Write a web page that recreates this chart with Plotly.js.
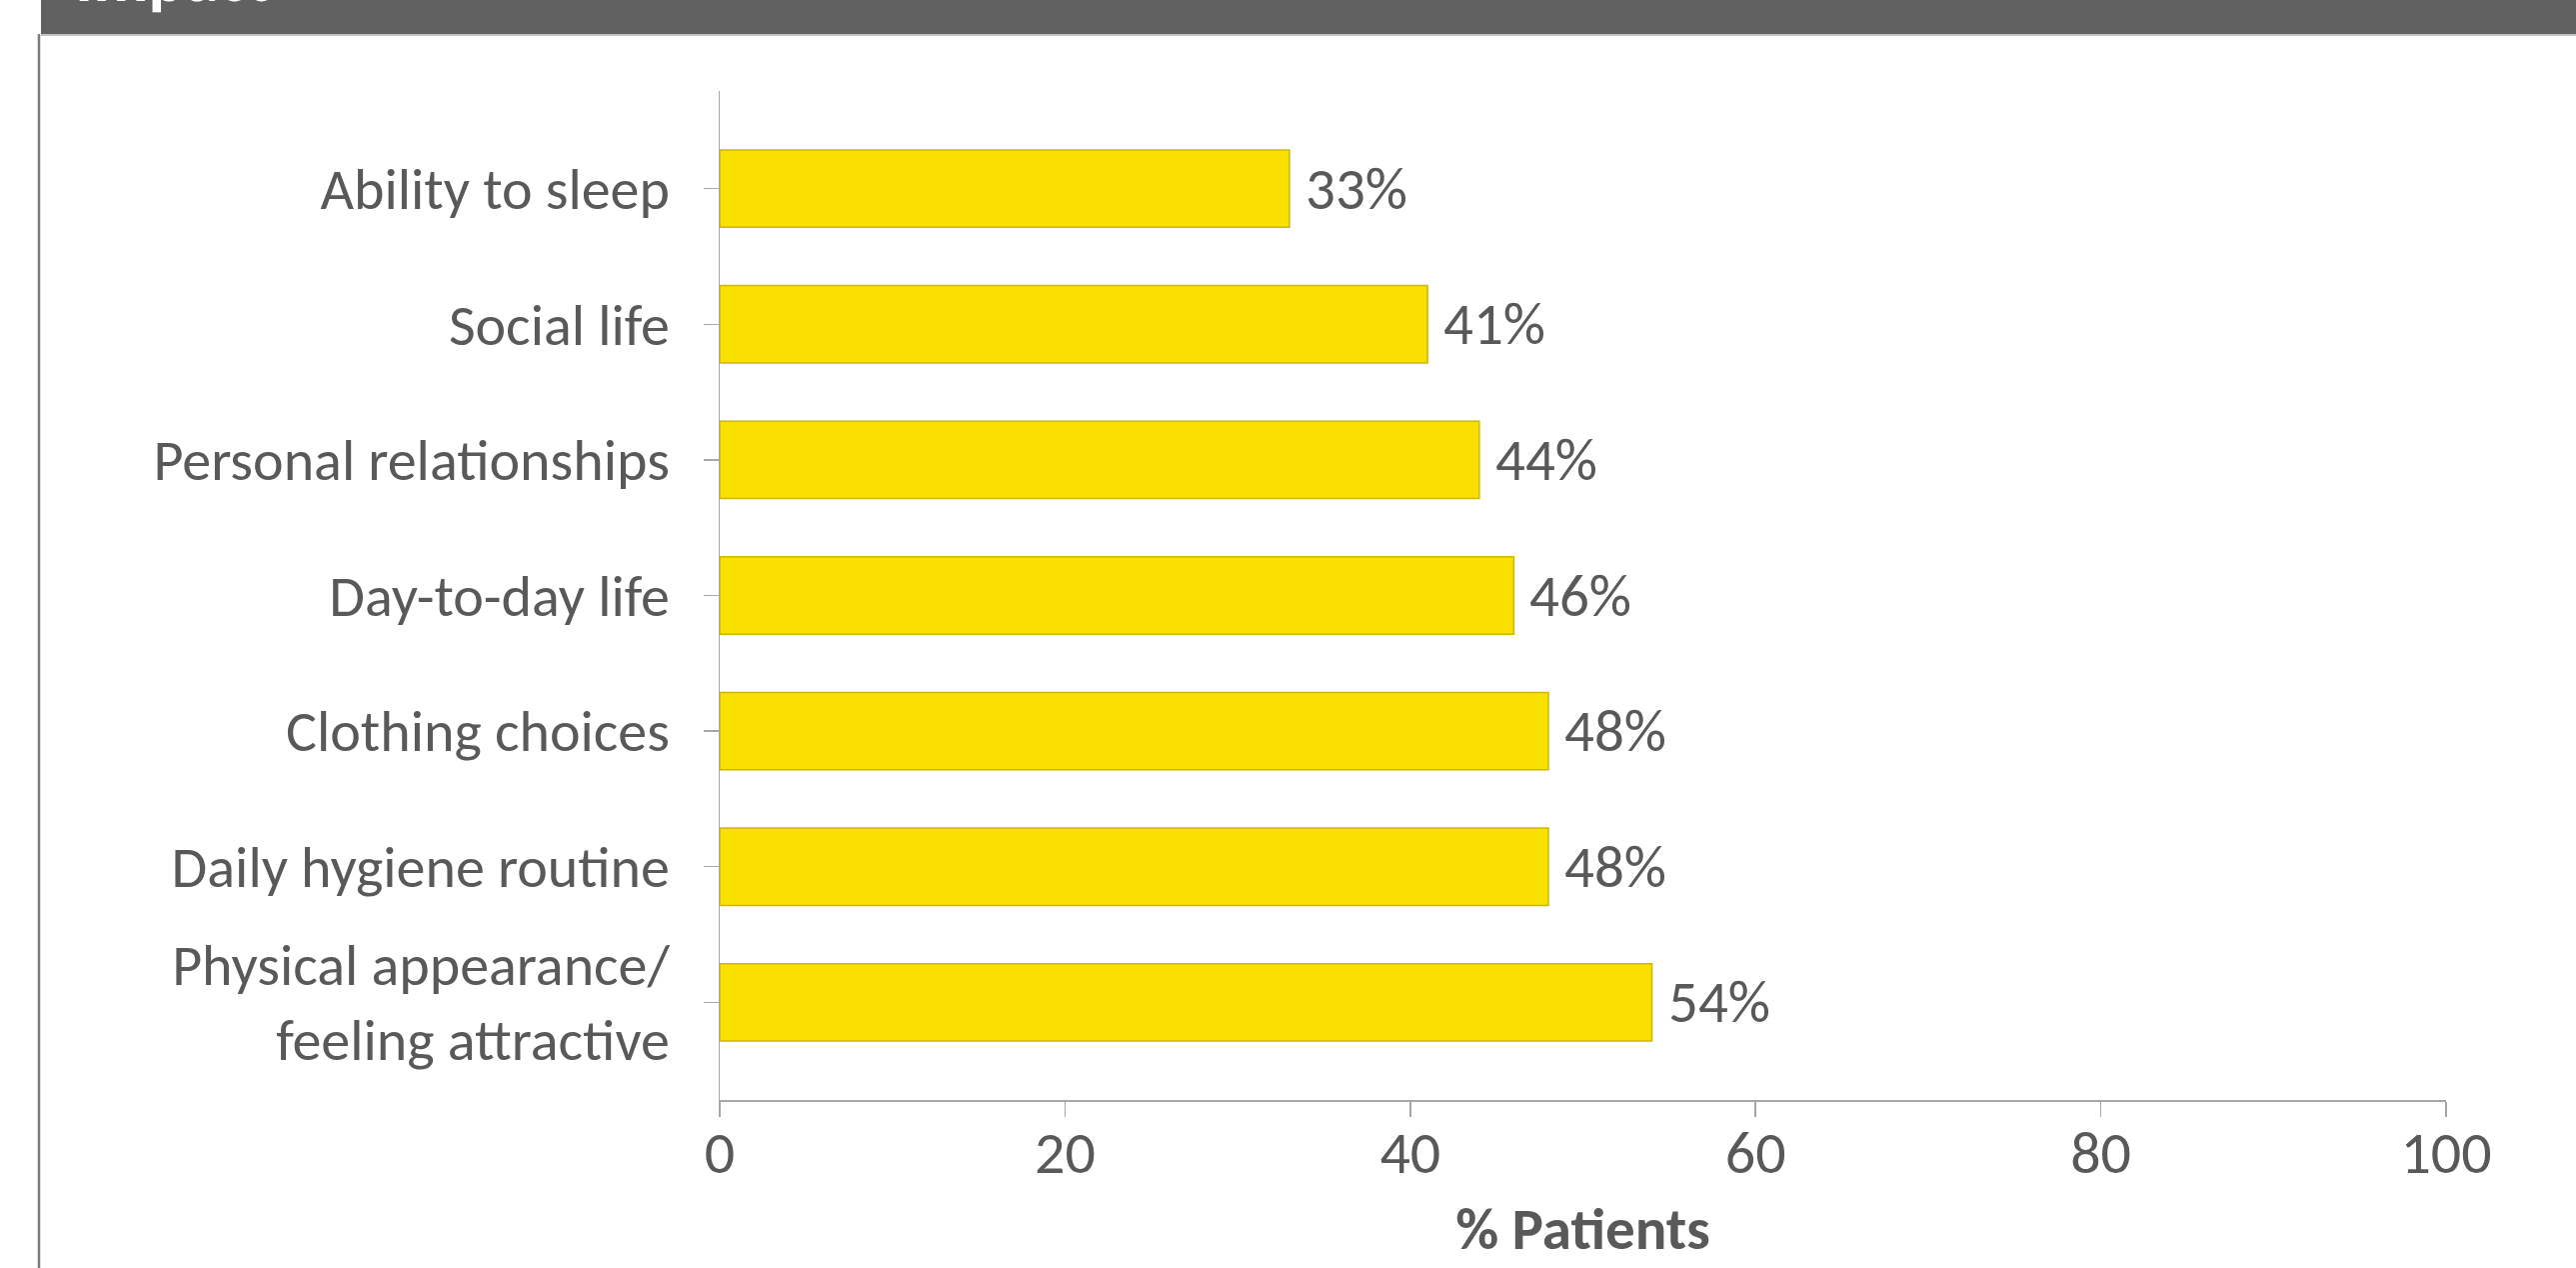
<!DOCTYPE html>
<html>
<head>
<meta charset="utf-8">
<script src="https://cdn.plot.ly/plotly-3.0.1.min.js"></script>
<style>
  html, body { margin: 0; padding: 0; background: #ffffff; }
  #chart { width: 2577px; height: 1268px; }
</style>
</head>
<body>
<div id="chart"></div>
<script>
// ---- data ----
const categories = [
  "Ability to sleep",
  "Social life",
  "Personal relationships",
  "Day-to-day life",
  "Clothing choices",
  "Daily hygiene routine",
  "Physical appearance/<br>feeling attractive"
];
const percentPatients = [33, 41, 44, 46, 48, 48, 54];
const xTickValues = [0, 20, 40, 60, 80, 100];
const bannerTitle = "Impact";
const xAxisTitle = "% Patients";

// ---- layout geometry ----
const W = 2577, H = 1268;
const M = { l: 720, r: 130, t: 91, b: 168 };
const PW = W - M.l - M.r, PH = H - M.t - M.b;
const px = v => (v - M.l) / PW;          // pixel x -> paper x
const py = v => (H - M.b - v) / PH;      // pixel y -> paper y

const FONT = "Carlito, Calibri, Lato, 'Open Sans', sans-serif";
const TXT = "#595959";
const AX = "#a6a6a6";

const trace = {
  type: "bar",
  orientation: "h",
  y: categories,
  x: percentPatients,
  width: 0.57,
  marker: { color: "#FAE000", line: { color: "#CDB800", width: 1.5 } },
  hoverinfo: "skip"
};

const valueLabels = percentPatients.map((v, i) => ({
  x: v, y: categories[i], xref: "x", yref: "y",
  text: v + "%", showarrow: false, xanchor: "left", yanchor: "middle",
  xshift: 14, font: { family: FONT, size: 59, color: TXT }
}));

const layout = {
  width: W, height: H,
  margin: M,
  paper_bgcolor: "#ffffff",
  plot_bgcolor: "#ffffff",
  showlegend: false,
  font: { family: FONT, color: TXT },
  xaxis: {
    range: [0, 100],
    tickvals: xTickValues,
    ticks: "outside", ticklen: 15, tickcolor: AX, tickwidth: 1.5,
    showline: true, linecolor: AX, linewidth: 2,
    showgrid: false, zeroline: false,
    tickfont: { family: FONT, size: 60, color: TXT },
    ticklabelstandoff: -16,
    title: { text: "<b>" + xAxisTitle + "</b>", font: { family: FONT, size: 59, color: TXT }, standoff: 20 },
    fixedrange: true
  },
  yaxis: {
    type: "category",
    categoryorder: "array", categoryarray: categories,
    range: [6.72, -0.72],
    ticks: "outside", ticklen: 15, tickcolor: AX, tickwidth: 1.5,
    showline: true, linecolor: AX, linewidth: 1.5,
    showgrid: false, zeroline: false,
    tickfont: { family: FONT, size: 58, color: TXT },
    ticklabelstandoff: 22,
    fixedrange: true
  },
  shapes: [
    { type: "rect", xref: "paper", yref: "paper", layer: "above",
      x0: px(41), x1: px(W + 5), y0: py(34), y1: py(-5),
      fillcolor: "#616161", line: { width: 0 } },
    { type: "line", xref: "paper", yref: "paper", layer: "above",
      x0: px(41), x1: px(W + 5), y0: py(35), y1: py(35),
      line: { color: "#c4c4c4", width: 2 } },
    { type: "line", xref: "paper", yref: "paper", layer: "above",
      x0: px(39), x1: px(39), y0: py(34), y1: py(H + 5),
      line: { color: "#7a7a7a", width: 2.5 } }
  ],
  annotations: valueLabels.concat([
    { xref: "paper", yref: "paper", x: px(73), y: py(-23),
      xanchor: "left", yanchor: "middle", showarrow: false,
      text: "<b>" + bannerTitle + "</b>",
      font: { family: FONT, size: 68, color: "#ffffff" } }
  ])
};

Plotly.newPlot("chart", [trace], layout, { displayModeBar: false, staticPlot: true });
</script>
</body>
</html>
